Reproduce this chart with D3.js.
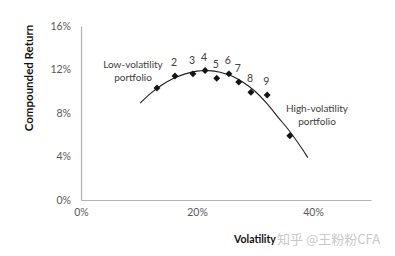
<!DOCTYPE html>
<html>
<head>
<meta charset="utf-8">
<script src="https://cdn.jsdelivr.net/npm/d3@7"></script>
<style>
    body { margin: 0; background: #fff; }
    text { font-family: Lato, "Open Sans", sans-serif; }
</style>
</head>
<body>
<div id="chart"></div>
<script>
var width = 395, height = 256;

// portfolio points (volatility %, compounded return %)
var pointVol = [13.1, 16.2, 19.3, 21.4, 23.4, 25.5, 27.2, 29.3, 32.1, 36.0];
var pointRet = [10.3, 11.4, 11.6, 11.9, 11.2, 11.6, 10.85, 9.9, 9.65, 5.9];
var pointLabels = ["", "2", "3", "4", "5", "6", "7", "8", "9", ""];

// fitted curve
var curveVol = [10.2, 12, 14, 16, 18, 20, 22, 24, 26, 28, 30, 32, 34, 36, 38, 39.1];
var curveRet = [8.9, 9.8, 10.6, 11.2, 11.6, 11.85, 11.9, 11.75, 11.4, 10.8, 10.0, 8.9, 7.6, 6.3, 4.8, 3.9];

var yTicks = [0, 4, 8, 12, 16];
var xTicks = [0, 20, 40];

var x = d3.scaleLinear().domain([0, 50]).range([81, 371]);
var y = d3.scaleLinear().domain([0, 16]).range([200, 26]);

var svg = d3.select("#chart").append("svg")
    .attr("width", width)
    .attr("height", height);

// axes
var yAxis = d3.axisLeft(y).tickValues(yTicks).tickSize(0).tickPadding(10)
    .tickFormat(function (d) { return d + "%"; });
var xAxis = d3.axisBottom(x).tickValues(xTicks).tickSize(0).tickPadding(9)
    .tickFormat(function (d) { return d + "%"; });

var gy = svg.append("g").attr("transform", "translate(" + x(0) + ",0)").call(yAxis);
var gx = svg.append("g").attr("transform", "translate(0," + y(0) + ")").call(xAxis);

[gx, gy].forEach(function (g) {
    g.select(".domain").attr("stroke", "#b3b3b3").attr("stroke-width", 1.2);
    g.selectAll("text")
        .attr("fill", "#595959")
        .style("font-size", "10.5px")
        .style("font-family", "Lato, sans-serif");
});

// curve
var curveData = curveVol.map(function (v, i) { return [v, curveRet[i]]; });
svg.append("path")
    .datum(curveData)
    .attr("fill", "none")
    .attr("stroke", "#1f1f1f")
    .attr("stroke-width", 1.1)
    .attr("d", d3.line()
        .x(function (d) { return x(d[0]); })
        .y(function (d) { return y(d[1]); })
        .curve(d3.curveCatmullRom));

// diamonds
var pts = pointVol.map(function (v, i) { return {vol: v, ret: pointRet[i], label: pointLabels[i]}; });
var sym = d3.symbol().type(d3.symbolSquare).size(24);
svg.selectAll(".pt")
    .data(pts)
    .enter()
    .append("path")
    .attr("class", "pt")
    .attr("d", sym)
    .attr("fill", "#141414")
    .attr("transform", function (d) {
        return "translate(" + x(d.vol) + "," + y(d.ret) + ") rotate(45)";
    });

svg.selectAll(".lbl")
    .data(pts.filter(function (d) { return d.label; }))
    .enter()
    .append("text")
    .attr("class", "lbl")
    .attr("x", function (d) { return x(d.vol) - 1; })
    .attr("y", function (d) { return y(d.ret) - 10; })
    .attr("text-anchor", "middle")
    .attr("fill", "#404040")
    .style("font-size", "10.5px")
    .text(function (d) { return d.label; });

// annotations
function note(cx, cy, lines) {
    var t = svg.append("text")
        .attr("text-anchor", "middle")
        .attr("fill", "#404040")
        .style("font-size", "10px");
    lines.forEach(function (s, i) {
        t.append("tspan").attr("x", cx).attr("y", cy + i * 13).text(s);
    });
}
note(133, 68, ["Low-volatility", "portfolio"]);
note(317, 112, ["High-volatility", "portfolio"]);

// axis titles
svg.append("text")
    .attr("transform", "translate(33,78) rotate(-90)")
    .attr("text-anchor", "middle")
    .attr("fill", "#111")
    .style("font-size", "11.5px")
    .style("font-weight", "bold")
    .text("Compounded Return");

svg.append("text")
    .attr("x", 255)
    .attr("y", 243)
    .attr("text-anchor", "middle")
    .attr("fill", "#111")
    .style("font-size", "10.5px")
    .style("font-weight", "bold")
    .text("Volatility");

// watermark
svg.append("text")
    .attr("x", 277)
    .attr("y", 244)
    .attr("fill", "#c9c9c9")
    .style("font-size", "13px")
    .style("font-family", "'Noto Sans CJK SC', sans-serif")
    .text("知乎 @王粉粉CFA");
</script>
</body>
</html>
